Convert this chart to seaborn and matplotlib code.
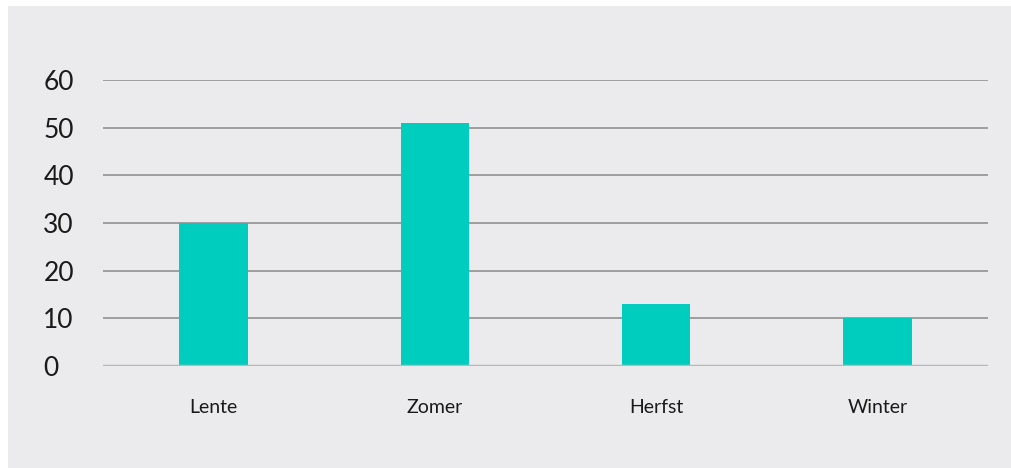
import matplotlib
matplotlib.use("Agg")
import matplotlib.pyplot as plt
from matplotlib.patches import Rectangle
import seaborn as sns
import pandas as pd

# Data
seasons = ["Lente", "Zomer", "Herfst", "Winter"]
values = [30, 51, 13, 10]
y_ticks = [0, 10, 20, 30, 40, 50, 60]

bg = "#ebebed"
bar_color = "#00cdbe"

sns.set_style("white")
plt.rcParams["font.family"] = ["Lato", "DejaVu Sans"]

W, H = 1011, 468
fig = plt.figure(figsize=(W / 100, H / 100), dpi=100, facecolor="white")
# gray panel with a thin white margin on the left and top
fig.patches.append(Rectangle((8 / W, 0), 1 - 8 / W, 1 - 6 / H,
                             transform=fig.transFigure, facecolor=bg,
                             edgecolor="none", zorder=-10))

ax = fig.add_axes([103 / W, 1 - 366 / H, (988 - 103) / W, (366 - 80) / H])
ax.set_facecolor("none")
ax.set_zorder(5)

df = pd.DataFrame({"season": seasons, "value": values})
sns.barplot(data=df, x="season", y="value", color=bar_color, width=0.31,
            saturation=1, linewidth=0, edgecolor="none", ax=ax, zorder=3)

ax.set_ylim(0, 60)
ax.set_xlim(-0.5, len(seasons) - 0.5)
ax.set_yticks(y_ticks)
ax.set_yticklabels([str(t) for t in y_ticks], fontsize=19, color="#1a1a1a",
                   ha="left")
ax.tick_params(axis="y", length=0, pad=43)
ax.tick_params(axis="x", length=0, pad=24, labelsize=14, labelcolor="#1a1a1a")

# horizontal grid lines
for t in y_ticks[1:]:
    ax.axhline(t, color="#8a8a8a", lw=1.1, zorder=1)
ax.axhline(0, color="#b8b8b8", lw=2.5, zorder=4)

for s in ax.spines.values():
    s.set_visible(False)
ax.set_xlabel("")
ax.set_ylabel("")

fig.savefig("out.png", dpi=100, facecolor="white")
